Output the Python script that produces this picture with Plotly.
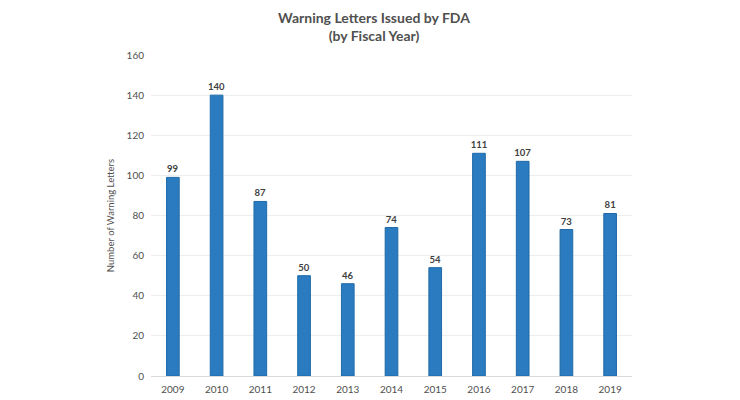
import plotly.graph_objects as go

years = ["2009", "2010", "2011", "2012", "2013", "2014", "2015", "2016", "2017", "2018", "2019"]
letters = [99, 140, 87, 50, 46, 74, 54, 111, 107, 73, 81]
y_ticks = [0, 20, 40, 60, 80, 100, 120, 140, 160]

FONT = "Lato"

fig = go.Figure(go.Bar(
    x=years, y=letters,
    marker=dict(color="#2a7bc0", line=dict(color="#1f6aa8", width=1)),
    text=[str(v) for v in letters], textposition="outside",
    constraintext="none",
    textfont=dict(family=FONT, size=9.5, color="#404040", weight="bold"),
    cliponaxis=False,
))

# page body has an 8px default margin; figure sized to fill the rest
fig.update_layout(
    width=732, height=392,
    margin=dict(l=143, r=108, t=47, b=24, autoexpand=False),
    paper_bgcolor="white", plot_bgcolor="white",
    bargap=0.71,
    showlegend=False,
    title=dict(
        text="Warning Letters Issued by FDA<br>(by Fiscal Year)",
        x=0.5, xanchor="center", y=0.962, yanchor="top",
        font=dict(family=FONT, size=14, color="#505050", weight="bold"),
    ),
    xaxis=dict(
        type="category", showgrid=False, showline=True, linecolor="#d9d9d9",
        ticks="", ticklabelstandoff=4, automargin=False,
        tickfont=dict(family=FONT, size=10, color="#505050"),
    ),
    yaxis=dict(
        range=[0, 160], tickvals=y_ticks, showgrid=True, gridcolor="#eeeeee",
        zeroline=False, showline=False, ticks="", ticklabelstandoff=6,
        automargin=False,
        tickfont=dict(family=FONT, size=10, color="#505050"),
        title=dict(text="Number of Warning Letters", standoff=10,
                   font=dict(family=FONT, size=9.5, color="#505050")),
    ),
)

fig.write_html("out.html")
